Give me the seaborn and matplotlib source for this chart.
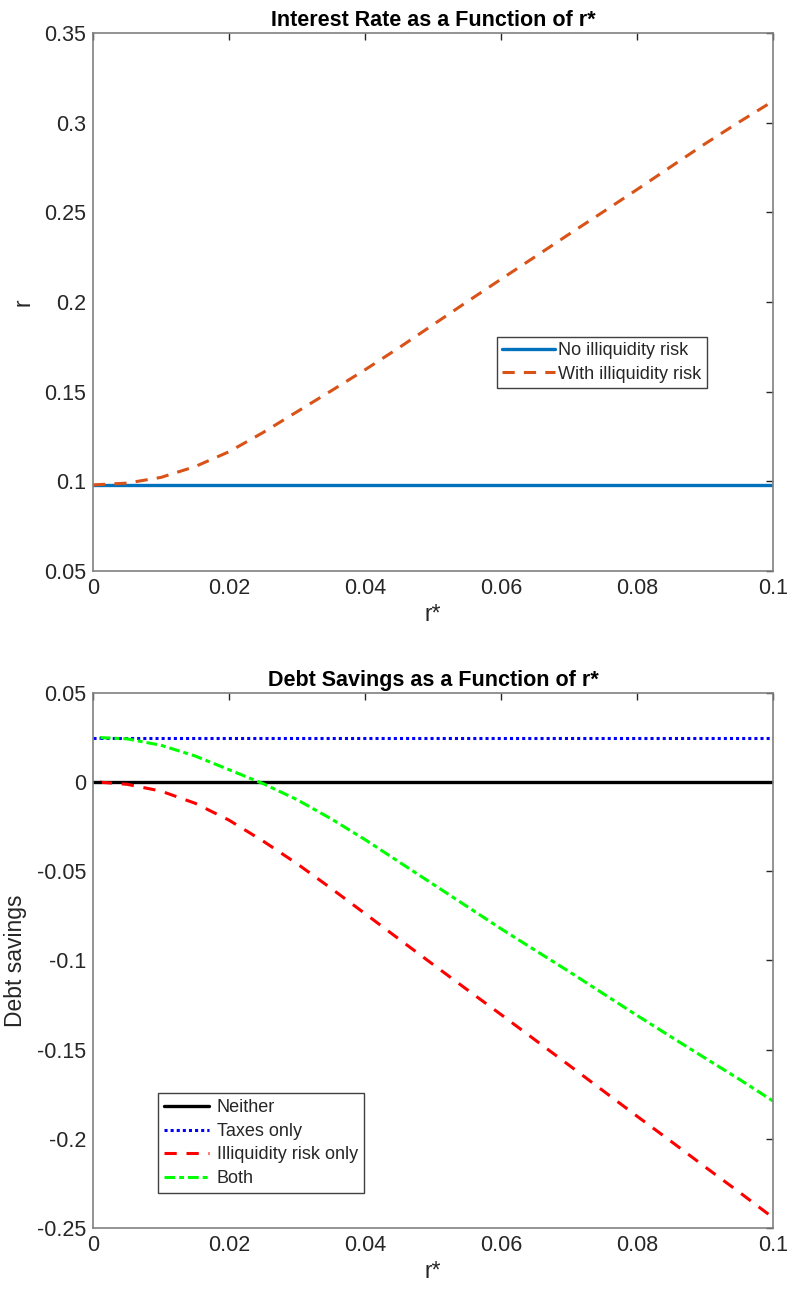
import numpy as np
import pandas as pd
import matplotlib
matplotlib.use("Agg")
import matplotlib.pyplot as plt
import seaborn as sns

# ---------------- data ----------------
rstar = [0.0, 0.005, 0.01, 0.015, 0.02, 0.025, 0.03, 0.035, 0.04, 0.045, 0.05,
         0.055, 0.06, 0.065, 0.07, 0.075, 0.08, 0.085, 0.09, 0.095, 0.1]
r_no_illiq = [0.098] * len(rstar)
r_with_illiq = [0.098, 0.0990, 0.1022, 0.1082, 0.1165, 0.1272, 0.1388, 0.1504, 0.1622,
                0.1745, 0.1873, 0.2001, 0.2127, 0.2252, 0.2378, 0.2502, 0.2627,
                0.2755, 0.2882, 0.3003, 0.312]

rstar2 = [0.001, 0.005, 0.01, 0.015, 0.02, 0.025, 0.03, 0.035, 0.04, 0.045, 0.05,
          0.055, 0.06, 0.065, 0.07, 0.075, 0.08, 0.085, 0.09, 0.095, 0.1]
neither = [0.0] * len(rstar2)
taxes_only = [0.025] * len(rstar2)
illiq_only = [0.0, -0.0012, -0.0050, -0.0118, -0.0213, -0.0330, -0.0457, -0.0595,
              -0.0737, -0.0880, -0.1022, -0.1163, -0.1303, -0.1445, -0.1587, -0.1730,
              -0.1873, -0.2014, -0.2157, -0.2298, -0.2442]
both = [0.025, 0.0243, 0.0207, 0.0147, 0.0070, -0.0008, -0.0098, -0.0205, -0.0322,
        -0.0447, -0.0572, -0.0697, -0.0822, -0.0942, -0.1062, -0.1185, -0.1308,
        -0.1428, -0.1547, -0.1665, -0.1788]

xticks = [0, 0.02, 0.04, 0.06, 0.08, 0.1]
xticklabels = ["0", "0.02", "0.04", "0.06", "0.08", "0.1"]
yticks_top = [0.05, 0.1, 0.15, 0.2, 0.25, 0.3, 0.35]
yticklabels_top = ["0.05", "0.1", "0.15", "0.2", "0.25", "0.3", "0.35"]
yticks_bot = [-0.25, -0.2, -0.15, -0.1, -0.05, 0, 0.05]
yticklabels_bot = ["-0.25", "-0.2", "-0.15", "-0.1", "-0.05", "0", "0.05"]

# ---------------- style ----------------
sns.set_style("white")
plt.rcParams["font.family"] = ["Liberation Sans", "DejaVu Sans"]
plt.rcParams["axes.unicode_minus"] = False

TXT = "#262626"
SPINE_COLOR = "#808080"

fig = plt.figure(figsize=(7.9, 12.9), dpi=100)
ax1 = fig.add_axes([93 / 790, 1 - 571 / 1290, 680 / 790, 538 / 1290])
ax2 = fig.add_axes([93 / 790, 1 - 1228 / 1290, 680 / 790, 535 / 1290])

df_top = pd.DataFrame({"rstar": rstar, "no": r_no_illiq, "with": r_with_illiq})
df_bot = pd.DataFrame({"rstar": rstar2, "neither": neither, "taxes": taxes_only,
                       "illiq": illiq_only, "both": both})

sns.lineplot(data=df_top, x="rstar", y="no", ax=ax1, color="#0072BD", lw=2.4,
             label="No illiquidity risk")
sns.lineplot(data=df_top, x="rstar", y="with", ax=ax1, color="#D95319", lw=2.2,
             linestyle=(0, (4, 3)), label="With illiquidity risk")

sns.lineplot(data=df_bot, x="rstar", y="neither", ax=ax2, color="black", lw=2.4,
             label="Neither")
sns.lineplot(data=df_bot, x="rstar", y="taxes", ax=ax2, color="#0000FF", lw=2.2,
             linestyle=(0, (1, 1)), label="Taxes only")
sns.lineplot(data=df_bot, x="rstar", y="illiq", ax=ax2, color="#FF0000", lw=2.2,
             linestyle=(0, (4, 3.2)), label="Illiquidity risk only")
sns.lineplot(data=df_bot, x="rstar", y="both", ax=ax2, color="#00FF00", lw=2.2,
             linestyle=(0, (3.5, 1.3, 1.6, 1.3)), label="Both")

ax2.plot([0, 0.001], [0, 0], color="black", lw=2.4)
ax2.plot([0, 0.001], [0.025, 0.025], color="#0000FF", lw=2.2, linestyle=(0, (1, 1)))

def style_axes(ax, yticks, ylabels, ylim, title, ylabel):
    ax.set_xlim(0, 0.1)
    ax.set_ylim(*ylim)
    ax.set_xticks(xticks)
    ax.set_xticklabels(xticklabels)
    ax.set_yticks(yticks)
    ax.set_yticklabels(ylabels)
    ax.tick_params(direction="in", length=5, width=1, colors=TXT,
                   labelsize=15.5, top=True, right=True, pad=5)
    for lab in ax.get_xticklabels() + ax.get_yticklabels():
        lab.set_color(TXT)
    for s in ax.spines.values():
        s.set_color(SPINE_COLOR)
        s.set_linewidth(1.2)
    ax.set_title(title, fontsize=15.5, fontweight="bold", pad=5, color="black")
    ax.set_xlabel("r*", fontsize=16.5, color=TXT, labelpad=3)
    ax.set_ylabel(ylabel, fontsize=16.5, color=TXT, labelpad=7)

style_axes(ax1, yticks_top, yticklabels_top, (0.05, 0.35),
           "Interest Rate as a Function of r*", "r")
style_axes(ax2, yticks_bot, yticklabels_bot, (-0.25, 0.05),
           "Debt Savings as a Function of r*", "Debt savings")

leg1 = ax1.legend(loc="upper left", bbox_to_anchor=(0.594, 0.435), borderaxespad=0,
                  fontsize=13, frameon=True, fancybox=False, framealpha=1,
                  edgecolor="#404040", handlelength=2.9, handletextpad=0.2,
                  borderpad=0.3, labelspacing=0.35)
leg1.get_frame().set_linewidth(1.0)

leg2 = ax2.legend(loc="upper left", bbox_to_anchor=(0.0956, 0.252), borderaxespad=0,
                  fontsize=13, frameon=True, fancybox=False, framealpha=1,
                  edgecolor="#404040", handlelength=2.5, handletextpad=0.4,
                  borderpad=0.35, labelspacing=0.36)
leg2.get_frame().set_linewidth(1.0)

fig.savefig("out.png", dpi=100)
